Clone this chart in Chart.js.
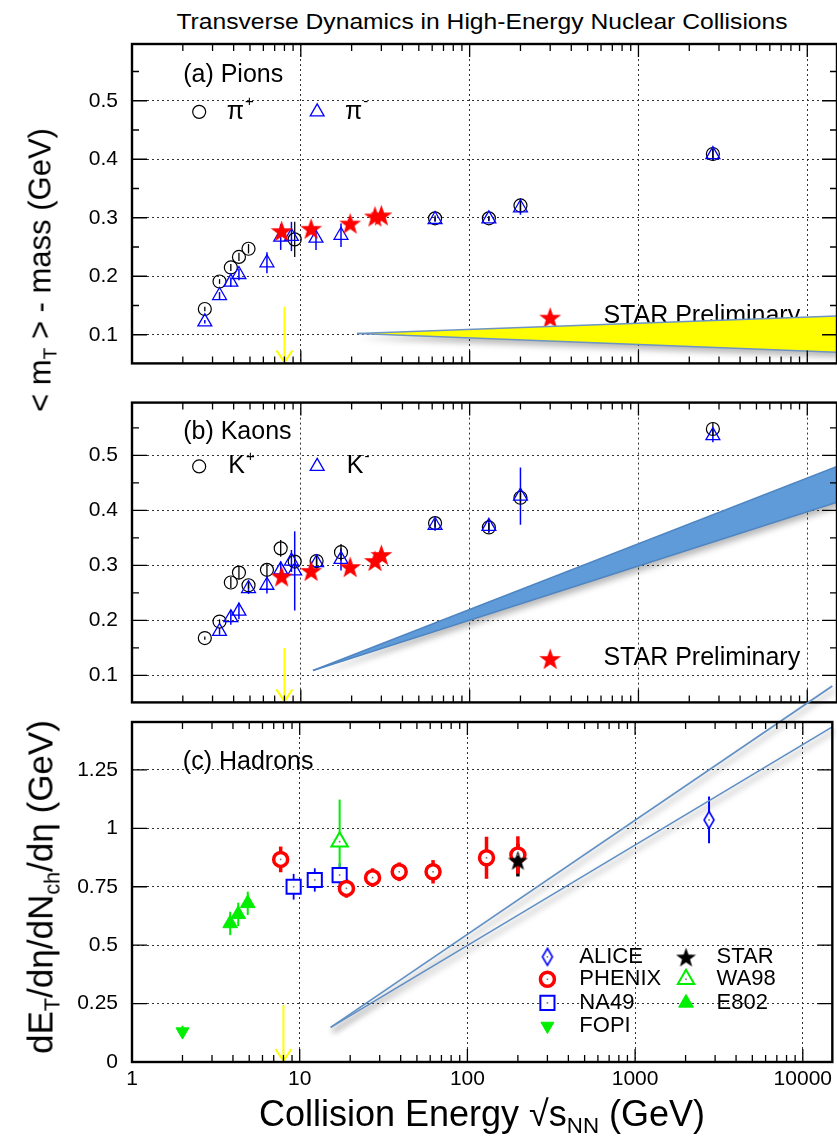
<!DOCTYPE html>
<html lang="en">
<head>
<meta charset="UTF-8">
<meta name="viewport" content="width=device-width, initial-scale=1.0">
<title>Transverse Dynamics in High-Energy Nuclear Collisions</title>
<script src="https://cdn.jsdelivr.net/npm/chart.js@4.4.0/dist/chart.umd.min.js"></script>
<style>
    html, body { margin: 0; padding: 0; background: #fff; }
    body { font-family: "Liberation Sans", Arial, sans-serif; color: #000; }
    #page { position: relative; width: 837px; height: 1143px; overflow: hidden; }
    canvas { position: absolute; left: 0; }
    .label { position: absolute; white-space: nowrap; line-height: 1; }
    .vlabel { position: absolute; white-space: nowrap; line-height: 1; transform: translate(-50%, -50%) rotate(-90deg); }
    .label sub, .vlabel sub { font-size: 62%; vertical-align: baseline; position: relative; top: 0.32em; }
</style>
</head>
<body>
<div id="page">
    <div class="label" style="left:482px; top:11px; font-size:22px; transform:translateX(-50%) scaleX(1.12);">Transverse Dynamics in High-Energy Nuclear Collisions</div>
    <canvas id="chartA" width="837" height="390" style="top:0px"></canvas>
    <canvas id="chartB" width="837" height="353" style="top:376px"></canvas>
    <canvas id="chartC" width="837" height="503" style="top:640px"></canvas>
    <div class="vlabel" style="left:40px; top:270px; font-size:31px;">&lt; m<sub>T</sub> &gt; - mass (GeV)</div>
    <div class="vlabel" style="left:40px; top:887px; font-size:35px;">dE<sub>T</sub>/dη/dN<sub>ch</sub>/dη (GeV)</div>
    <div class="label" style="left:482px; top:1096px; font-size:36px; transform:translateX(-50%);">Collision Energy √s<sub>NN</sub> (GeV)</div>
</div>

<script>
    // ---------- x axis (collision energy, GeV) ----------
    const X_MIN = 1, X_MAX = 15000;
    const xDecades = [1, 10, 100, 1000, 10000];
    const xTickLabels = ['1', '10', '100', '1000', '10000'];

    // ---------- y axes ----------
    const yTicksMt = [0.1, 0.2, 0.3, 0.4, 0.5];
    const yTickLabelsMt = ['0.1', '0.2', '0.3', '0.4', '0.5'];
    const yMinorMt = [0.15, 0.25, 0.35, 0.45, 0.55];
    const yTicksEt = [0, 0.25, 0.5, 0.75, 1, 1.25];
    const yTickLabelsEt = ['0', '0.25', '0.5', '0.75', '1', '1.25'];

    // ---------- (a) pions ----------
    const piPlusE   = [2.7, 3.3, 3.85, 4.3, 4.9, 9.2, 62.4, 130, 200, 2760];
    const piPlusMt  = [0.144, 0.191, 0.215, 0.233, 0.247, 0.263, 0.299, 0.299, 0.321, 0.409];
    const piPlusErr = [0.004, 0.004, 0.006, 0.007, 0.008, 0.030, 0.005, 0.004, 0.012, 0.010];

    const piMinusE   = [2.7, 3.3, 3.85, 4.3, 6.3, 7.6, 8.8, 12.3, 17.3, 62.4, 130, 200, 2760];
    const piMinusMt  = [0.122, 0.167, 0.190, 0.203, 0.223, 0.267, 0.268, 0.265, 0.270, 0.297, 0.298, 0.317, 0.408];
    const piMinusErr = [0.003, 0.006, 0.008, 0.010, 0.018, 0.022, 0.025, 0.020, 0.020, 0.004, 0.004, 0.012, 0.010];

    const starBesE = [7.7, 11.5, 19.6, 27.5, 30];
    const starPiMt = [0.278, 0.282, 0.291, 0.303, 0.305];

    // yellow model band
    const bandAE     = [21.6, 15000];
    const bandAUpper = [0.102, 0.132];
    const bandALower = [0.102, 0.070];

    // ---------- (b) kaons ----------
    const kPlusE   = [2.7, 3.3, 3.85, 4.3, 4.9, 6.3, 7.6, 9.2, 12.4, 17.3, 62.4, 130, 200, 2760];
    const kPlusMt  = [0.168, 0.198, 0.269, 0.287, 0.264, 0.292, 0.331, 0.307, 0.308, 0.324, 0.377, 0.369, 0.423, 0.548];
    const kPlusErr = [0.003, 0.004, 0.010, 0.012, 0.006, 0.012, 0.015, 0.010, 0.010, 0.015, 0.008, 0.008, 0.010, 0.012];

    const kMinusE   = [3.3, 3.85, 4.3, 4.9, 6.3, 7.6, 8.8, 9.2, 12.4, 17.3, 62.4, 130, 200, 2760];
    const kMinusMt  = [0.180, 0.205, 0.217, 0.258, 0.264, 0.292, 0.308, 0.290, 0.305, 0.311, 0.373, 0.371, 0.426, 0.536];
    const kMinusErr = [0.006, 0.013, 0.015, 0.010, 0.015, 0.015, 0.020, 0.072, 0.012, 0.020, 0.010, 0.012, 0.052, 0.012];

    const starKMt = [0.281, 0.291, 0.298, 0.309, 0.320];

    // blue model band
    const bandBE     = [11.8, 15000];
    const bandBUpper = [0.109, 0.480];
    const bandBLower = [0.109, 0.415];

    // ---------- (c) hadrons ----------
    const fopiE = [2.0], fopiEt = [0.13], fopiErr = [0.025];
    const e802E = [3.85, 4.3, 4.9], e802Et = [0.593, 0.632, 0.679], e802Err = [0.05, 0.05, 0.05];
    const phenixE   = [7.7, 19.0, 27.2, 39.2, 62.4, 130, 200];
    const phenixEt  = [0.867, 0.743, 0.789, 0.814, 0.814, 0.874, 0.886];
    const phenixErr = [0.055, 0.04, 0.04, 0.04, 0.05, 0.09, 0.08];
    const na49E = [9.2, 12.3, 17.3], na49Et = [0.75, 0.779, 0.80], na49Err = [0.055, 0.05, 0.05];
    const wa98E = [17.3], wa98Et = [0.943], wa98Err = [0.18];
    const starE = [200], starEt = [0.864], starErr = [0.07];
    const aliceE = [2760], aliceEt = [1.036], aliceErr = [0.1];

    // two model lines
    const linesCE    = [15.3, 15000];
    const lineCUpper = [0.148, 1.609];
    const lineCLower = [0.148, 1.434];

    // yellow arrow (top of each arrow, per panel)
    const arrowE = 8;
    const arrowTops = [0.148, 0.150, 0.244];

    // ---------- helpers ----------
    const FONT = '"Liberation Sans", Arial, sans-serif';
    Chart.defaults.font.family = FONT;

    const xTickValues = [];
    xDecades.forEach(d => {
        for (let m = 1; m <= 9; m++) if (d * m <= X_MAX) xTickValues.push(d * m);
    });
    const isDecade = v => xDecades.indexOf(v) >= 0;

    function pts(xs, ys) {
        return xs.map((x, i) => ({ x: x, y: ys[i] }));
    }

    function starImage(size, color) {
        const c = document.createElement('canvas');
        c.width = size; c.height = size;
        const g = c.getContext('2d');
        const R = size / 2, r = R * 0.4, cy = R + size * 0.06;
        g.beginPath();
        for (let i = 0; i < 10; i++) {
            const a = -Math.PI / 2 + i * Math.PI / 5;
            const rr = i % 2 ? r : R;
            g.lineTo(R + rr * Math.cos(a), cy + rr * Math.sin(a));
        }
        g.closePath();
        g.fillStyle = color;
        g.fill();
        return c;
    }

    function diamondImage(w, h, color) {
        const c = document.createElement('canvas');
        c.width = w + 4; c.height = h + 4;
        const g = c.getContext('2d');
        const cx = c.width / 2, cy = c.height / 2;
        g.beginPath();
        g.moveTo(cx, cy - h / 2); g.lineTo(cx + w / 2, cy);
        g.lineTo(cx, cy + h / 2); g.lineTo(cx - w / 2, cy);
        g.closePath();
        g.fillStyle = '#fff'; g.fill();
        g.strokeStyle = color; g.lineWidth = 1.6; g.stroke();
        return c;
    }

    const redStar = starImage(23, '#ff0000');
    const blackStar = starImage(21, '#000000');
    const blueDiamond = diamondImage(10, 17, '#0000ff');

    // marker styles shared by datasets and legends
    const mk = {
        plus:   { style: 'circle', radius: 6.5, fill: 'rgba(0,0,0,0)', stroke: '#000', width: 1.2, err: 1.3 },
        minus:  { style: 'triangle', radius: 8, fill: 'rgba(0,0,0,0)', stroke: '#0000ff', width: 1.3, err: 1.5 },
        bes:    { style: redStar, radius: 11, fill: '#ff0000', stroke: '#ff0000', width: 0, err: 1.5 },
        phenix: { style: 'circle', radius: 7, fill: '#fff', stroke: '#ff0000', width: 3.5, err: 3.5, dot: true },
        na49:   { style: 'rect', radius: 10, fill: '#fff', stroke: '#0000ff', width: 2, err: 1.8, dot: true },
        fopi:   { style: 'triangle', radius: 7.5, rotation: 180, fill: '#00ee00', stroke: '#00ee00', width: 1, err: 2 },
        e802:   { style: 'triangle', radius: 8.5, fill: '#00ee00', stroke: '#00ee00', width: 1, err: 2 },
        wa98:   { style: 'triangle', radius: 9.5, fill: '#fff', stroke: '#00ee00', width: 2, err: 2, dot: true },
        star:   { style: blackStar, radius: 10, fill: '#000', stroke: '#000', width: 0, err: 3.5 },
        alice:  { style: blueDiamond, radius: 9, fill: '#fff', stroke: '#0000ff', width: 1.6, err: 2, dot: true }
    };

    function markerSet(xs, ys, errs, m) {
        return {
            data: pts(xs, ys), showLine: false, order: 1,
            errors: errs, errorColor: m.stroke, errorWidth: m.err, centerDot: !!m.dot,
            pointStyle: m.style, pointRadius: m.radius, pointHoverRadius: m.radius,
            pointRotation: m.rotation || 0,
            pointBackgroundColor: m.fill, pointBorderColor: m.stroke,
            pointBorderWidth: m.width, pointHoverBorderWidth: m.width
        };
    }

    function edgeSet(xs, ys, color, fillColor) {
        return {
            data: pts(xs, ys), showLine: true, pointRadius: 0, pointHoverRadius: 0,
            borderColor: color, borderWidth: 1.6, tension: 0, order: 5,
            fill: fillColor ? '-1' : false, backgroundColor: fillColor || 'rgba(0,0,0,0)'
        };
    }

    function drawMarker(ctx, m, px, py) {
        ctx.save();
        ctx.fillStyle = m.fill;
        ctx.strokeStyle = m.stroke;
        ctx.lineWidth = m.width;
        Chart.helpers.drawPoint(ctx, {
            pointStyle: m.style, radius: m.radius, rotation: m.rotation || 0, borderWidth: m.width
        }, px, py);
        if (m.dot) {
            ctx.fillStyle = '#777';
            ctx.fillRect(px - 0.8, py - 0.8, 1.6, 1.6);
        }
        ctx.restore();
    }

    // ---------- per-panel extras: notes, legend, arrows, minor ticks ----------
    const sup = (base, s) => [{ t: base, size: 25 }, { t: s, size: 15, dy: -10 }];
    const panelExtras = {
        chartA: {
            yMajor: yTicksMt, yMinor: yMinorMt, arrowTop: arrowTops[0],
            notes: [
                { x: 2.01, y: 0.544, parts: [{ t: '(a) Pions', size: 25 }] },
                { x: 2.5, y: 0.481, marker: mk.plus },
                { x: 3.64, y: 0.481, parts: sup('π', '+') },
                { x: 12.5, y: 0.481, marker: mk.minus },
                { x: 18.3, y: 0.481, parts: sup('π', '-') },
                { x: 300, y: 0.130, marker: mk.bes },
                { x: 620, y: 0.131, parts: [{ t: 'STAR Preliminary', size: 25 }] }
            ]
        },
        chartB: {
            yMajor: yTicksMt, yMinor: yMinorMt, arrowTop: arrowTops[1],
            notes: [
                { x: 2.01, y: 0.543, parts: [{ t: '(b) Kaons', size: 25 }] },
                { x: 2.5, y: 0.480, marker: mk.plus },
                { x: 3.72, y: 0.480, parts: sup('K', '+') },
                { x: 12.5, y: 0.480, marker: mk.minus },
                { x: 18.7, y: 0.480, parts: sup('K', '-') },
                { x: 300, y: 0.131, marker: mk.bes },
                { x: 620, y: 0.131, parts: [{ t: 'STAR Preliminary', size: 25 }] }
            ]
        },
        chartC: {
            yMajor: yTicksEt, yMinor: [], arrowTop: arrowTops[2],
            notes: [
                { x: 2.01, y: 1.283, parts: [{ t: '(c) Hadrons', size: 25 }] },
                { x: 300, y: 0.450, marker: mk.alice },
                { x: 465, y: 0.450, parts: [{ t: 'ALICE', size: 22 }] },
                { x: 300, y: 0.354, marker: mk.phenix },
                { x: 465, y: 0.354, parts: [{ t: 'PHENIX', size: 22 }] },
                { x: 300, y: 0.253, marker: mk.na49 },
                { x: 465, y: 0.253, parts: [{ t: 'NA49', size: 22 }] },
                { x: 300, y: 0.154, marker: mk.fopi },
                { x: 465, y: 0.154, parts: [{ t: 'FOPI', size: 22 }] },
                { x: 2012, y: 0.450, marker: mk.star },
                { x: 3059, y: 0.450, parts: [{ t: 'STAR', size: 22 }] },
                { x: 2012, y: 0.354, marker: mk.wa98 },
                { x: 3059, y: 0.354, parts: [{ t: 'WA98', size: 22 }] },
                { x: 2012, y: 0.253, marker: mk.e802 },
                { x: 3059, y: 0.253, parts: [{ t: 'E802', size: 22 }] }
            ]
        }
    };

    // ---------- plugins ----------
    const notesPlugin = {
        id: 'notes',
        beforeDatasetsDraw(chart) {
            const ex = panelExtras[chart.canvas.id];
            const { ctx, scales: { x, y } } = chart;
            ex.notes.forEach(n => {
                const px = x.getPixelForValue(n.x), py = y.getPixelForValue(n.y);
                if (n.marker) drawMarker(ctx, n.marker, px, py);
                if (n.parts) {
                    let cx = px;
                    ctx.save();
                    ctx.fillStyle = '#000';
                    ctx.textBaseline = 'middle';
                    ctx.textAlign = 'left';
                    n.parts.forEach(p => {
                        ctx.font = p.size + 'px ' + FONT;
                        ctx.fillText(p.t, cx, py + (p.dy || 0));
                        cx += ctx.measureText(p.t).width + 1;
                    });
                    ctx.restore();
                }
            });
        }
    };

    // soft grey drop shadow under the model bands and lines
    const shadows = {
        id: 'shadows',
        beforeDatasetsDraw(chart) {
            const { ctx, scales: { x, y } } = chart;
            const ds = chart.data.datasets;
            ctx.save();
            ctx.filter = 'blur(3px)';
            ds.forEach((d, i) => {
                if (!d.shadow) return;
                const p = d.data.map(q => [x.getPixelForValue(q.x), y.getPixelForValue(q.y)]);
                ctx.beginPath();
                if (d.shadow === 'band') {
                    const up = ds[i - 1].data.map(q => [x.getPixelForValue(q.x), y.getPixelForValue(q.y)]);
                    up.forEach((q, k) => k ? ctx.lineTo(q[0] + 2, q[1] + 5) : ctx.moveTo(q[0] + 2, q[1] + 5));
                    p.slice().reverse().forEach(q => ctx.lineTo(q[0] + 2, q[1] + 5));
                    ctx.closePath();
                    ctx.fillStyle = 'rgba(0,0,0,0.28)';
                    ctx.fill();
                } else {
                    p.forEach((q, k) => k ? ctx.lineTo(q[0] + 2, q[1] + 4) : ctx.moveTo(q[0] + 2, q[1] + 4));
                    ctx.strokeStyle = 'rgba(0,0,0,0.25)';
                    ctx.lineWidth = 3;
                    ctx.stroke();
                }
            });
            ctx.restore();
        }
    };

    const errorBars = {
        id: 'errorBars',
        beforeDatasetsDraw(chart) {
            const { ctx, scales: { x, y } } = chart;
            chart.data.datasets.forEach(ds => {
                if (!ds.errors) return;
                ctx.save();
                ctx.strokeStyle = ds.errorColor;
                ctx.lineWidth = ds.errorWidth;
                ds.data.forEach((p, j) => {
                    const px = x.getPixelForValue(p.x);
                    ctx.beginPath();
                    ctx.moveTo(px, y.getPixelForValue(p.y - ds.errors[j]));
                    ctx.lineTo(px, y.getPixelForValue(p.y + ds.errors[j]));
                    ctx.stroke();
                });
                ctx.restore();
            });
        },
        afterDatasetsDraw(chart) {
            const { ctx, scales: { x, y } } = chart;
            ctx.save();
            ctx.fillStyle = '#777';
            chart.data.datasets.forEach(ds => {
                if (!ds.centerDot) return;
                ds.data.forEach(p => {
                    ctx.fillRect(x.getPixelForValue(p.x) - 0.8, y.getPixelForValue(p.y) - 0.8, 1.6, 1.6);
                });
            });
            ctx.restore();
        }
    };

    const frame = {
        id: 'frame',
        afterDraw(chart) {
            const ex = panelExtras[chart.canvas.id];
            const { ctx, chartArea: a, scales: { x, y } } = chart;
            ctx.save();
            // yellow arrow
            const ax = x.getPixelForValue(arrowE), at = y.getPixelForValue(ex.arrowTop);
            ctx.strokeStyle = '#ffff00';
            ctx.lineWidth = 2;
            ctx.beginPath();
            ctx.moveTo(ax, at); ctx.lineTo(ax, a.bottom - 1);
            ctx.moveTo(ax - 8, a.bottom - 13); ctx.lineTo(ax, a.bottom - 1); ctx.lineTo(ax + 8, a.bottom - 13);
            ctx.stroke();

            ctx.strokeStyle = '#000';
            ctx.lineWidth = 1.3;
            ctx.beginPath();
            xTickValues.forEach(v => {
                const px = x.getPixelForValue(v);
                const len = isDecade(v) ? 13 : 7;
                ctx.moveTo(px, a.bottom); ctx.lineTo(px, a.bottom - len);
                ctx.moveTo(px, a.top); ctx.lineTo(px, a.top + len);
            });
            ex.yMajor.concat(ex.yMinor).forEach(v => {
                const py = y.getPixelForValue(v);
                const len = ex.yMajor.indexOf(v) >= 0 ? 15 : 7;
                ctx.moveTo(a.left, py); ctx.lineTo(a.left + len, py);
                ctx.moveTo(a.right, py); ctx.lineTo(a.right - len, py);
            });
            ctx.stroke();
            ctx.lineWidth = 2.4;
            ctx.strokeRect(a.left, a.top, a.right - a.left, a.bottom - a.top);
            ctx.restore();
        }
    };

    // ---------- scales ----------
    function xScale(showLabels) {
        return {
            type: 'logarithmic', min: X_MIN, max: X_MAX,
            afterBuildTicks: s => { s.ticks = xTickValues.map(v => ({ value: v })); },
            afterFit: s => { s.height = showLabels ? 81 : 0; },
            ticks: {
                display: showLabels, autoSkip: false, maxRotation: 0, minRotation: 0, padding: 5,
                color: '#000', font: { family: FONT, size: 21 },
                callback: v => { const k = xDecades.indexOf(v); return k >= 0 ? xTickLabels[k] : ''; }
            },
            grid: {
                drawTicks: false, lineWidth: 1,
                color: c => (c.tick && isDecade(c.tick.value)) ? '#333' : 'rgba(0,0,0,0)'
            },
            border: { display: false, dash: [2, 3] }
        };
    }

    function yScale(min, max, tickVals, tickLabels) {
        return {
            type: 'linear', min: min, max: max,
            afterBuildTicks: s => { s.ticks = tickVals.map(v => ({ value: v })); },
            afterFit: s => { s.width = 132; },
            ticks: {
                padding: 14, color: '#000', font: { family: FONT, size: 21 },
                callback: v => {
                    const k = tickVals.findIndex(t => Math.abs(t - v) < 1e-9);
                    return k >= 0 ? tickLabels[k] : '';
                }
            },
            grid: { drawTicks: false, color: '#333', lineWidth: 1 },
            border: { display: false, dash: [2, 3] }
        };
    }

    function makeChart(id, datasets, yOpts, showX, padding) {
        return new Chart(document.getElementById(id), {
            type: 'line',
            data: { datasets: datasets },
            options: {
                responsive: false,
                animation: false,
                events: [],
                layout: { padding: padding, autoPadding: false },
                plugins: { legend: { display: false }, tooltip: { enabled: false } },
                scales: { x: xScale(showX), y: yOpts }
            },
            plugins: [shadows, notesPlugin, errorBars, frame]
        });
    }

    // ---------- panels ----------
    const bandALo = edgeSet(bandAE, bandALower, '#6d94c4', '#ffff00');
    bandALo.shadow = 'band';
    makeChart('chartA', [
        markerSet(starBesE, starPiMt, [0, 0, 0, 0, 0], mk.bes),
        markerSet(piMinusE, piMinusMt, piMinusErr, mk.minus),
        markerSet(piPlusE, piPlusMt, piPlusErr, mk.plus),
        edgeSet(bandAE, bandAUpper, '#6d94c4'),
        bandALo
    ], yScale(0.051, 0.597, yTicksMt, yTickLabelsMt), false,
        { top: 44, bottom: 7, left: 0, right: 0 });

    const bandBLo = edgeSet(bandBE, bandBLower, '#4f86c2', '#5e9bd8');
    bandBLo.shadow = 'band';
    makeChart('chartB', [
        markerSet(starBesE, starKMt, [0, 0, 0, 0, 0], mk.bes),
        markerSet(kMinusE, kMinusMt, kMinusErr, mk.minus),
        markerSet(kPlusE, kPlusMt, kPlusErr, mk.plus),
        edgeSet(bandBE, bandBUpper, '#4f86c2'),
        bandBLo
    ], yScale(0.051, 0.596, yTicksMt, yTickLabelsMt), false,
        { top: 7, bottom: 7, left: 0, right: 0 });

    const lineUp = edgeSet(linesCE, lineCUpper, '#5f8fc4');
    const lineLo = edgeSet(linesCE, lineCLower, '#5f8fc4');
    lineUp.clip = false;
    lineLo.clip = false;
    lineUp.shadow = 'line';
    lineLo.shadow = 'line';

    makeChart('chartC', [
        markerSet(starE, starEt, starErr, mk.star),
        markerSet(phenixE, phenixEt, phenixErr, mk.phenix),
        markerSet(aliceE, aliceEt, aliceErr, mk.alice),
        markerSet(na49E, na49Et, na49Err, mk.na49),
        markerSet(wa98E, wa98Et, wa98Err, mk.wa98),
        markerSet(e802E, e802Et, e802Err, mk.e802),
        markerSet(fopiE, fopiEt, fopiErr, mk.fopi),
        lineUp,
        lineLo
    ], yScale(0, 1.455, yTicksEt, yTickLabelsEt), true,
        { top: 82, bottom: 0, left: 0, right: 0 });
</script>
</body>
</html>
